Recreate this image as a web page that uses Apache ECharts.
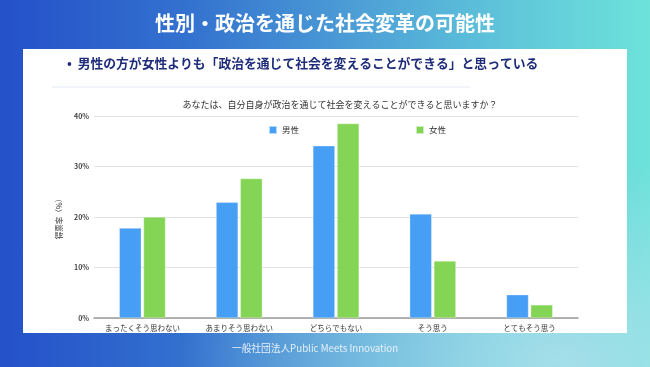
<!DOCTYPE html>
<html><head><meta charset="utf-8">
<script src="https://cdn.jsdelivr.net/npm/echarts@6/dist/echarts.min.js"></script>
<style>
html,body{margin:0;padding:0;}
body{width:650px;height:367px;overflow:hidden;
background:
 radial-gradient(ellipse 380px 200px at 560px 360px, rgba(175,225,236,0.85), rgba(175,225,236,0) 100%),
 linear-gradient(90deg,#2450c9 0%,#3473cf 30%,#4d9fd6 55%,#5fc6da 78%,#6de2da 100%);}
#c{width:650px;height:367px;}
</style></head><body>
<div id="c"></div>
<script>
const categories = ['まったくそう思わない','あまりそう思わない','どちらでもない','そう思う','とてもそう思う'];
const maleValues = [17.8, 22.9, 34.1, 20.6, 4.6];
const femaleValues = [20.0, 27.6, 38.5, 11.3, 2.6];
const yTicks = [0, 10, 20, 30, 40];

const FONT = '"Noto Sans CJK JP","Noto Sans",sans-serif';
const chart = echarts.init(document.getElementById('c'), null, {renderer:'canvas'});
chart.setOption({
  backgroundColor: 'transparent',
  animation: false,
  textStyle: {fontFamily: FONT},
  graphic: [
    {type:'rect', z:-1, shape:{x:23,y:49,width:604,height:284}, style:{fill:'#ffffff'}},
    {type:'text', left:'center', top:13, style:{text:'性別・政治を通じた社会変革の可能性', fill:'#ffffff', font:'bold 20px '+FONT}},
    {type:'text', left:67, top:57, style:{text:'•  男性の方が女性よりも「政治を通じて社会を変えることができる」と思っている', fill:'#1e2c7a', font:'bold 12.8px '+FONT}},
    {type:'line', shape:{x1:52,y1:87,x2:470,y2:87}, style:{stroke:'#e3eaf2', lineWidth:1}},
    {type:'text', left:232, top:343, style:{text:'一般社団法人Public Meets Innovation', fill:'#e6f0fa', font:'9.7px '+FONT}}
  ],
  title: {
    text: 'あなたは、自分自身が政治を通じて社会を変えることができると思いますか？',
    left: 335, textAlign:'center', top: 95,
    textStyle: {fontSize: 9, fontWeight:'normal', color:'#333333', fontFamily: FONT}
  },
  legend: [
    {data:['男性'], left:263, top:120, itemWidth:8, itemHeight:8, icon:'rect', textStyle:{fontSize:8.5, color:'#333', fontFamily:FONT}},
    {data:['女性'], left:410, top:120, itemWidth:8, itemHeight:8, icon:'rect', textStyle:{fontSize:8.5, color:'#333', fontFamily:FONT}}
  ],
  grid: {left:94, right:72, top:116, bottom:49},
  xAxis: {
    type:'category', data: categories,
    axisTick:{show:false},
    axisLine:{lineStyle:{color:'#9a9a9a', width:1.5}},
    axisLabel:{fontSize:7.5, color:'#333', margin:6, fontFamily:FONT, interval:0}
  },
  yAxis: {
    type:'value', min:yTicks[0], max:yTicks[yTicks.length-1], interval:10,
    name:'得票率（%）', nameLocation:'middle', nameGap:24, nameRotate:90,
    nameTextStyle:{fontSize:7.5, color:'#333', fontFamily:FONT},
    axisLabel:{formatter:'{value}%', fontSize:7, color:'#444', fontWeight:'bold', margin:5},
    splitLine:{lineStyle:{color:'#e2e2e2', width:1}},
    axisLine:{show:false}, axisTick:{show:false}
  },
  series: [
    {name:'男性', type:'bar', data: maleValues, barWidth:22, barGap:'10%',
     itemStyle:{color:'#469ef5', borderColor:'rgba(255,255,255,0.6)', borderWidth:0.5}},
    {name:'女性', type:'bar', data: femaleValues, barWidth:22,
     itemStyle:{color:'#84d555', borderColor:'rgba(255,255,255,0.6)', borderWidth:0.5}}
  ]
});
</script>
</body></html>
